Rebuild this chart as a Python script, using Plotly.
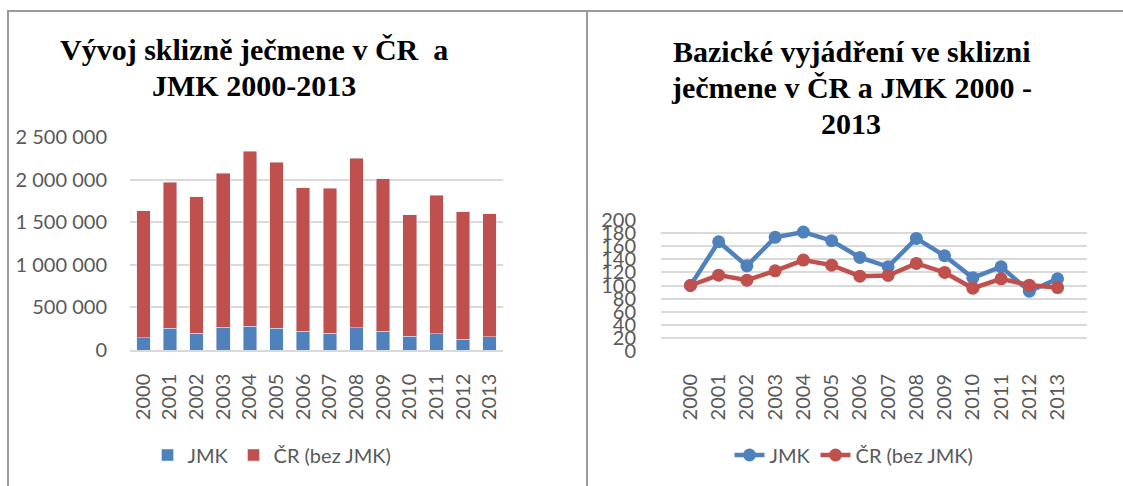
import plotly.graph_objects as go

years = [str(y) for y in range(2000, 2014)]

# Left chart: harvest (t), stacked
jmk_harvest = [145000, 255000, 196000, 266000, 278000, 255000, 219000,
               196000, 263000, 219000, 161000, 192000, 129000, 157000]
total_harvest = [1634000, 1971000, 1799000, 2073000, 2335000, 2202000, 1904000,
                 1900000, 2249000, 2010000, 1587000, 1818000, 1622000, 1599000]
cr_harvest = [t - j for t, j in zip(total_harvest, jmk_harvest)]

# Right chart: base index (2000 = 100)
jmk_index = [100, 166.8, 130, 173.5, 181.6, 168.4, 142.9,
             128.6, 171.9, 145.4, 111.7, 128.6, 91.3, 110.2]
cr_index = [100, 115.8, 108.2, 122.4, 138.8, 131.1, 114.3,
            115.3, 133.7, 119.9, 95.9, 110.2, 100.5, 96.9]

left_title_lines = ["Vývoj sklizně ječmene v ČR  a", "JMK 2000-2013"]
right_title_lines = ["Bazické vyjádření ve sklizni", "ječmene v ČR a JMK 2000 -", "2013"]

BLUE = "#4F81BD"
RED = "#C0504D"
GRID = "#D9D9D9"
TXT = "#595959"
FONT = "Lato"
W, H = 1123, 486

fig = go.Figure()
fig.add_trace(go.Bar(x=years, y=jmk_harvest, name="JMK", marker_color=BLUE,
                     xaxis="x", yaxis="y", legend="legend"))
fig.add_trace(go.Bar(x=years, y=cr_harvest, name="ČR (bez JMK)", marker_color=RED,
                     xaxis="x", yaxis="y", legend="legend"))
fig.add_trace(go.Scatter(x=years, y=jmk_index, name="JMK", mode="lines+markers",
                         line=dict(color=BLUE, width=4.5), marker=dict(size=13, color=BLUE),
                         xaxis="x2", yaxis="y2", legend="legend2"))
fig.add_trace(go.Scatter(x=years, y=cr_index, name="ČR (bez JMK)", mode="lines+markers",
                         line=dict(color=RED, width=4.5), marker=dict(size=13, color=RED),
                         xaxis="x2", yaxis="y2", legend="legend2"))

def px(x):
    return x / W

def py(y):
    return 1 - y / H

tickfont = dict(family=FONT, size=20, color=TXT)

fig.update_layout(
    width=W, height=H,
    margin=dict(l=0, r=0, t=0, b=0, autoexpand=False),
    paper_bgcolor="white", plot_bgcolor="white",
    separators=", ",
    barmode="stack", bargap=0.49,
    xaxis=dict(domain=[px(130), px(503)], anchor="y", type="category", automargin=False,
               tickangle=-90, tickfont=tickfont, showgrid=False,
               showline=True, linecolor=GRID, linewidth=1.5,
               ticks="outside", ticklen=14, tickcolor="rgba(0,0,0,0)"),
    yaxis=dict(domain=[py(350), py(137)], anchor="x", range=[0, 2500000], automargin=False,
               dtick=500000, tickformat=",d", tickfont=tickfont,
               showgrid=True, gridcolor=GRID, gridwidth=1.5, zeroline=False,
               ticks="outside", ticklen=18, tickcolor="rgba(0,0,0,0)"),
    xaxis2=dict(domain=[px(661), px(1087)], anchor="y2", type="category", automargin=False,
                tickangle=-90, tickfont=tickfont, showgrid=False, showline=False,
                ticks="outside", ticklen=14, tickcolor="rgba(0,0,0,0)"),
    yaxis2=dict(domain=[py(351), py(220)], anchor="x2", range=[0, 200], automargin=False,
                dtick=20, tickfont=tickfont,
                showgrid=True, gridcolor=GRID, gridwidth=1.5, zeroline=False,
                ticks="outside", ticklen=20, tickcolor="rgba(0,0,0,0)"),
    legend=dict(orientation="h", x=px(272), y=py(455), xanchor="center", yanchor="middle",
                font=dict(family=FONT, size=20, color=TXT), bgcolor="rgba(0,0,0,0)",
                traceorder="normal"),
    legend2=dict(orientation="h", x=px(854), y=py(455), xanchor="center", yanchor="middle",
                 font=dict(family=FONT, size=20, color=TXT), bgcolor="rgba(0,0,0,0)",
                 traceorder="normal"),
    showlegend=True,
)

title_font = dict(family="Liberation Serif", size=30, color="black")
for line, yc in zip(left_title_lines, [49, 86]):
    fig.add_annotation(text="<b>" + line + "</b>", xref="paper", yref="paper",
                       x=px(254), y=py(yc), xanchor="center", yanchor="middle",
                       showarrow=False, font=title_font)
for line, yc in zip(right_title_lines, [51, 87, 123]):
    fig.add_annotation(text="<b>" + line + "</b>", xref="paper", yref="paper",
                       x=px(851), y=py(yc), xanchor="center", yanchor="middle",
                       showarrow=False, font=title_font)

border = dict(color="#9A9A9A", width=2)
fig.add_shape(type="line", xref="paper", yref="paper", x0=px(7), x1=1, y0=py(11), y1=py(11), line=border)
fig.add_shape(type="line", xref="paper", yref="paper", x0=px(8), x1=px(8), y0=py(11), y1=0, line=border)
fig.add_shape(type="line", xref="paper", yref="paper", x0=px(587), x1=px(587), y0=py(11), y1=0, line=border)

fig.write_html("out.html", config={"displayModeBar": False},
               post_script="document.body.style.margin='0';document.body.style.overflow='hidden';")
